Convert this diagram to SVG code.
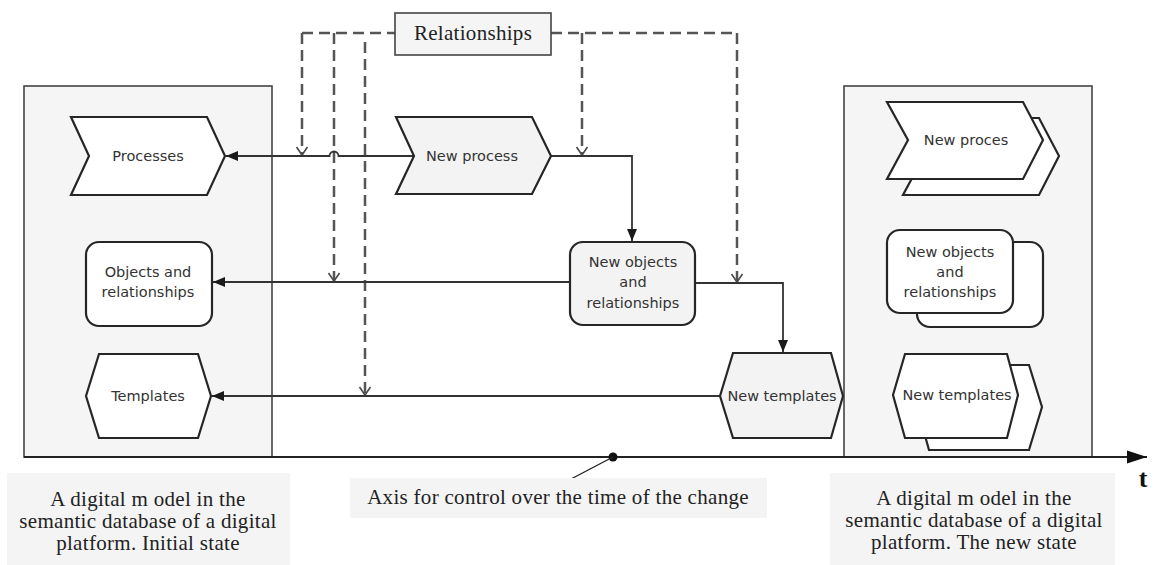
<svg xmlns="http://www.w3.org/2000/svg" width="1160" height="565" viewBox="0 0 1160 565">
  <style>
    .panel { fill: #f5f5f5; stroke: #444; stroke-width: 1.6; }
    .node { fill: #ffffff; stroke: #262626; stroke-width: 2.2; stroke-linejoin: miter; }
    .node-new { fill: #f3f3f3; stroke: #262626; stroke-width: 2.2; }
    .label { font-family: "DejaVu Sans", "Noto Sans", sans-serif; font-size: 14.5px; fill: #333; text-anchor: middle; }
    .caption { font-family: "Liberation Serif", "Times New Roman", serif; font-size: 21px; fill: #222; text-anchor: middle; letter-spacing: 0.3px; }
    .capbox { fill: #f4f4f4; }
    .flow { fill: none; stroke: #333; stroke-width: 1.8; }
    .rel { fill: none; stroke: #555; stroke-width: 2.5; stroke-dasharray: 11 6; }
  </style>
  <defs>
    <marker id="solidHead" markerUnits="userSpaceOnUse" markerWidth="16" markerHeight="12" viewBox="-13 -6 14 12" refX="0" refY="0" orient="auto">
      <path d="M-12,-5 L0,0 L-12,5 Z" fill="#1a1a1a"/>
    </marker>
    <marker id="openHead" markerUnits="userSpaceOnUse" markerWidth="14" markerHeight="14" viewBox="-10 -7 12 14" refX="0" refY="0" orient="auto">
      <path d="M-8,-5.5 L0,0 L-8,5.5" fill="none" stroke="#4a4a4a" stroke-width="1.6"/>
    </marker>
    <marker id="axisHead" markerUnits="userSpaceOnUse" markerWidth="24" markerHeight="16" viewBox="-21 -8 22 16" refX="0" refY="0" orient="auto">
      <path d="M-20,-6.5 L0,0 L-20,6.5 Z" fill="#111"/>
    </marker>
  </defs>

  <!-- state panels -->
  <rect id="panel-initial" class="panel" x="24" y="86" width="248" height="371"/>
  <rect id="panel-new" class="panel" x="844" y="86" width="248" height="371"/>

  <!-- time axis -->
  <g id="axis">
    <line x1="24" y1="457" x2="1147" y2="457" stroke="#222" stroke-width="1.8" marker-end="url(#axisHead)"/>
    <text x="1143" y="487" font-family="Liberation Serif, serif" font-size="26" font-weight="bold" fill="#111" text-anchor="middle">t</text>
    <circle cx="613" cy="457" r="4.5" fill="#111"/>
    <line x1="613" y1="457" x2="550" y2="490" stroke="#222" stroke-width="1.4"/>
  </g>

  <!-- connectors -->
  <g id="connectors">
    <!-- relationship links (dashed) -->
    <path class="rel" d="M302,33 H395"/>
    <path class="rel" d="M551,33 H737"/>
    <path class="rel" d="M302,33 V155" marker-end="url(#openHead)"/>
    <path class="rel" d="M334,33 V281" marker-end="url(#openHead)"/>
    <path class="rel" d="M365,42 V395" marker-end="url(#openHead)"/>
    <path class="rel" d="M582,33 V155" marker-end="url(#openHead)"/>
    <path class="rel" d="M737,33 V282" marker-end="url(#openHead)"/>

    <!-- flows back to the initial state -->
    <path class="flow" d="M414,156 H338.5 A4.5,4.5 0 0 0 329.5,156 H226" marker-end="url(#solidHead)"/>
    <path class="flow" d="M570,282 H213" marker-end="url(#solidHead)"/>
    <path class="flow" d="M720,396 H212" marker-end="url(#solidHead)"/>

    <!-- forward flows between new items -->
    <path class="flow" d="M551,156 H632 V241" marker-end="url(#solidHead)"/>
    <path class="flow" d="M695,283 H783 V352" marker-end="url(#solidHead)"/>
  </g>

  <!-- relationships box -->
  <g id="relationships">
    <rect x="395" y="13" width="156" height="42" fill="#f5f5f5" stroke="#444" stroke-width="1.6"/>
    <text class="caption" x="473" y="40">Relationships</text>
  </g>

  <!-- initial state nodes -->
  <g id="processes">
    <polygon class="node" points="71,117 207,117 225,156 207,195 71,195 89,156"/>
    <text class="label" x="148" y="161">Processes</text>
  </g>
  <g id="objects">
    <rect class="node" x="86" y="242" width="126" height="84" rx="13"/>
    <text class="label" x="148" y="277">Objects and</text>
    <text class="label" x="148" y="297">relationships</text>
  </g>
  <g id="templates">
    <polygon class="node" points="86,396 99,354 198,354 211,396 198,438 99,438"/>
    <text class="label" x="148" y="401">Templates</text>
  </g>

  <!-- changes in progress -->
  <g id="new-process">
    <polygon class="node-new" points="396,117 532,117 551,156 532,194 396,194 414,156"/>
    <text class="label" x="472" y="161">New process</text>
  </g>
  <g id="new-objects">
    <rect class="node-new" x="570" y="242" width="125" height="83" rx="13"/>
    <text class="label" x="633" y="267">New objects</text>
    <text class="label" x="633" y="287">and</text>
    <text class="label" x="633" y="308">relationships</text>
  </g>
  <g id="new-templates">
    <polygon class="node-new" points="720,396 733,353 831,353 843,396 831,438 733,438"/>
    <text class="label" x="782" y="401">New templates</text>
  </g>

  <!-- new state nodes (stacked) -->
  <g id="state-new-process">
    <polygon class="node" points="903,118 1039,118 1059,156 1039,195 903,195 924,156"/>
    <polygon class="node" points="887,102 1023,102 1043,140 1023,179 887,179 908,140"/>
    <text class="label" x="966" y="145">New proces</text>
  </g>
  <g id="state-new-objects">
    <rect class="node" x="917" y="242" width="126" height="85" rx="13"/>
    <rect class="node" x="887" y="230" width="126" height="83" rx="13"/>
    <text class="label" x="950" y="257">New objects</text>
    <text class="label" x="950" y="277">and</text>
    <text class="label" x="950" y="297">relationships</text>
  </g>
  <g id="state-new-templates">
    <polygon class="node" points="917,407 929,365 1029,365 1042,407 1029,450 929,450"/>
    <polygon class="node" points="893,395 905,354 1007,354 1018,395 1007,438 905,438"/>
    <text class="label" x="957" y="400">New templates</text>
  </g>

  <!-- captions -->
  <g id="caption-initial">
    <rect class="capbox" x="7" y="473" width="283" height="92"/>
    <text class="caption" x="148" y="506">A digital m odel in the</text>
    <text class="caption" x="148" y="528">semantic database of a digital</text>
    <text class="caption" x="148" y="550">platform. Initial state</text>
  </g>
  <g id="caption-axis">
    <rect class="capbox" x="350" y="478" width="417" height="40"/>
    <text class="caption" x="558" y="504">Axis for control over the time of the change</text>
  </g>
  <g id="caption-new">
    <rect class="capbox" x="830" y="473" width="285" height="92"/>
    <text class="caption" x="974" y="505">A digital m odel in the</text>
    <text class="caption" x="974" y="527">semantic database of a digital</text>
    <text class="caption" x="974" y="549">platform. The new state</text>
  </g>
</svg>
